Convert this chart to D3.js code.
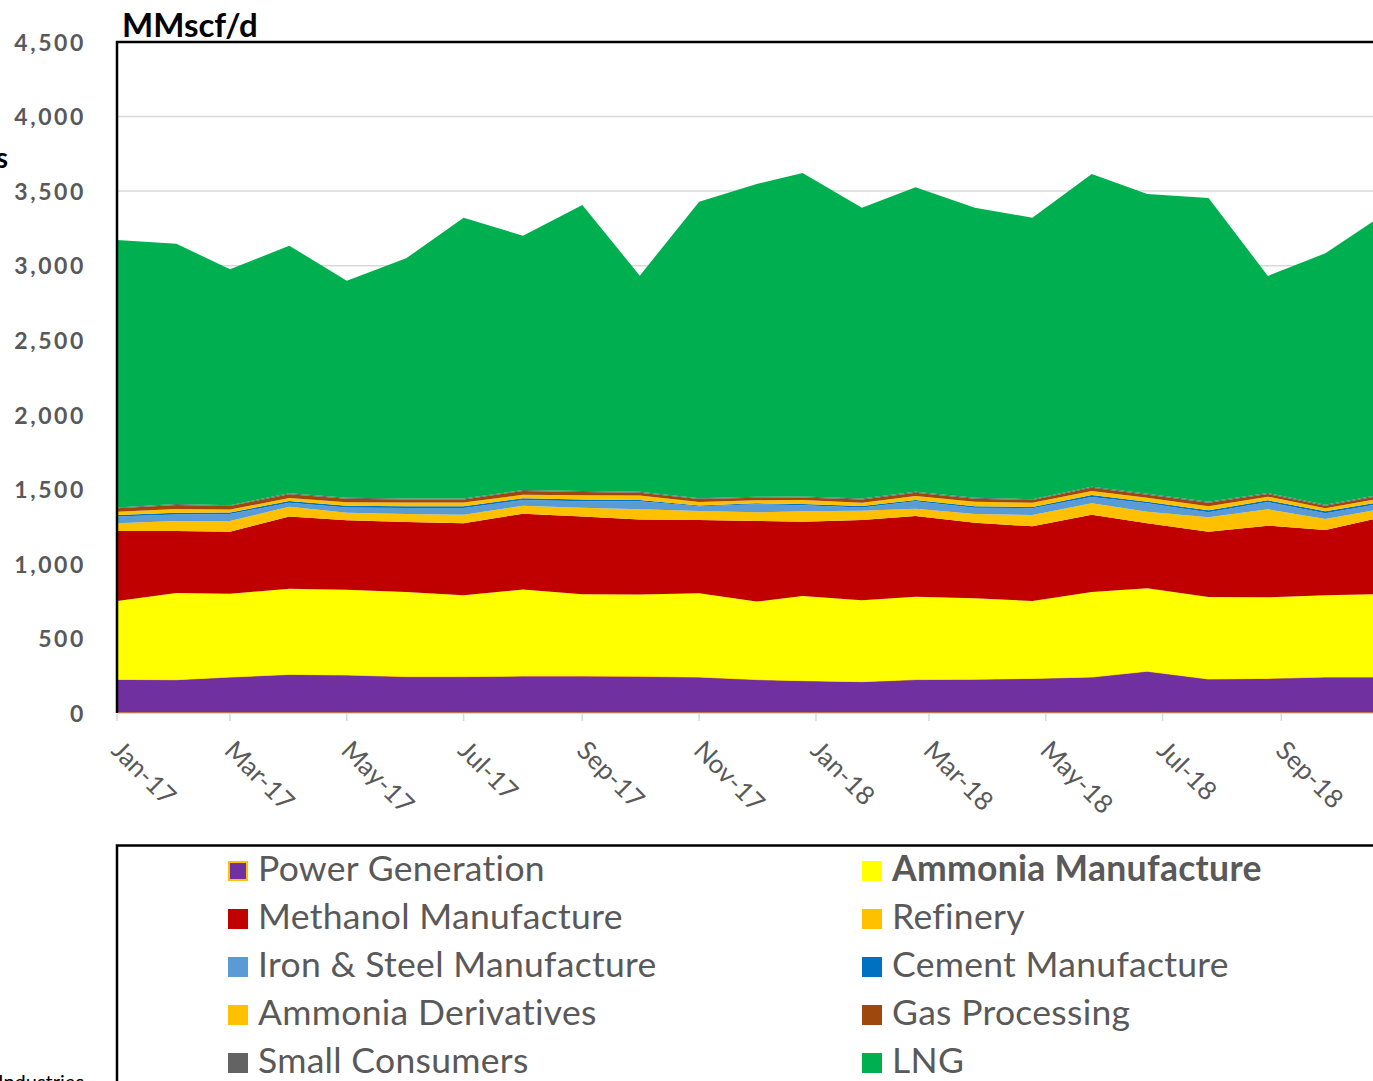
<!DOCTYPE html>
<html>
<head>
<meta charset="utf-8">
<script src="https://cdn.jsdelivr.net/npm/d3@7"></script>
<style>
  html, body { margin: 0; padding: 0; background: #fff; overflow: hidden; }
  svg { display: block; }
</style>
</head>
<body>
<script>
// monthly gas demand by sector, MMscf/d
const dates = [
  "2017-01-01", "2017-02-01", "2017-03-01", "2017-04-01", "2017-05-01", "2017-06-01",
  "2017-07-01", "2017-08-01", "2017-09-01", "2017-10-01", "2017-11-01", "2017-12-01",
  "2017-12-25", "2018-01-25", "2018-02-22", "2018-03-25", "2018-04-24", "2018-05-25",
  "2018-06-23", "2018-07-25", "2018-08-25", "2018-09-24", "2018-10-25"
]
const powerGeneration    = [225, 223, 241, 259, 255, 244, 244, 248, 248, 246, 241, 224, 217, 210, 224, 226, 232, 241, 280, 228, 232, 241, 241]
const ammoniaManufacture = [526, 582, 559, 575, 572, 567, 545, 581, 548, 548, 562, 523, 568, 546, 556, 543, 519, 570, 556, 550, 544, 548, 557]
const methanol           = [470, 416, 416, 483, 465, 470, 483, 508, 521, 503, 491, 541, 498, 538, 541, 507, 501, 519, 436, 438, 480, 438, 520]
const refinery           = [51, 67, 72, 67, 51, 54, 58, 53, 60, 69, 61, 58, 70, 63, 49, 59, 76, 76, 78, 96, 110, 74, 55]
const ironSteel          = [45, 44, 47, 26, 36, 40, 45, 38, 43, 54, 31, 54, 40, 22, 50, 42, 45, 43, 56, 34, 49, 38, 35]
const cement             = [11, 11, 10, 12, 11, 11, 11, 12, 11, 9, 5, 6, 9, 9, 9, 9, 9, 13, 11, 13, 11, 14, 11]
const ammoniaDerivatives = [22, 25, 19, 20, 23, 25, 25, 24, 29, 29, 24, 20, 27, 22, 26, 31, 28, 27, 27, 27, 25, 20, 25]
const gasProcessing      = [23, 27, 24, 25, 24, 21, 21, 25, 22, 19, 20, 18, 17, 22, 22, 20, 18, 22, 20, 24, 18, 17, 20]
const smallConsumers     = [6, 6, 6, 6, 6, 6, 6, 6, 6, 6, 6, 6, 6, 6, 6, 6, 6, 6, 6, 6, 6, 6, 6]
const lng                = [1793, 1746, 1582, 1661, 1456, 1611, 1884, 1706, 1919, 1450, 1988, 2098, 2170, 1951, 2043, 1946, 1888, 2098, 2011, 2038, 1456, 1687, 1878]

const seriesNames = [
  "Power Generation", "Ammonia Manufacture", "Methanol Manufacture", "Refinery",
  "Iron & Steel Manufacture", "Cement Manufacture", "Ammonia Derivatives",
  "Gas Processing", "Small Consumers", "LNG"
]
const seriesValues = [
  powerGeneration, ammoniaManufacture, methanol, refinery, ironSteel,
  cement, ammoniaDerivatives, gasProcessing, smallConsumers, lng
]
const seriesColors = [
  "#7030A0", "#FFFF00", "#C00000", "#FFC000", "#5B9BD5",
  "#0070C0", "#FFC000", "#9E480E", "#636363", "#00B050"
]
const yTicks = [0, 500, 1000, 1500, 2000, 2500, 3000, 3500, 4000, 4500]
const xTickDates = ["2017-01-01", "2017-03-01", "2017-05-01", "2017-07-01", "2017-09-01",
  "2017-11-01", "2018-01-01", "2018-03-01", "2018-05-01", "2018-07-01", "2018-09-01"]

const width = 1373
const height = 1081
const parse = d3.utcParse("%Y-%m-%d")

const rows = dates.map((d, i) => {
  const row = { date: parse(d) }
  seriesNames.forEach((name, k) => row[name] = seriesValues[k][i])
  return row
})

const x = d3.scaleUtc()
  .domain([parse("2017-01-01"), parse("2018-09-01")])
  .range([117, 1281.3])

const y = d3.scaleLinear()
  .domain([0, 4500])
  .range([713, 42])

const svg = d3.select("body").append("svg")
  .attr("width", width)
  .attr("height", height)
  .attr("font-family", "Lato, 'Open Sans', sans-serif")

svg.append("rect").attr("width", width).attr("height", height).attr("fill", "#fff")

// gridlines
svg.append("g")
  .selectAll("line")
  .data(yTicks.slice(1))
  .join("line")
  .attr("x1", 117).attr("x2", width)
  .attr("y1", d => y(d)).attr("y2", d => y(d))
  .attr("stroke", "#d9d9d9")
  .attr("stroke-width", 1.5)

const stack = d3.stack().keys(seriesNames)
const layers = stack(rows)

const area = d3.area()
  .x(d => x(d.data.date))
  .y0(d => y(d[0]))
  .y1(d => y(d[1]))

svg.append("g")
  .selectAll("path")
  .data(layers)
  .join("path")
  .attr("fill", (d, i) => seriesColors[i])
  .attr("stroke", (d, i) => i === 0 ? "#FFC000" : "none")
  .attr("stroke-width", 1)
  .attr("d", area)

// x axis
const xAxis = svg.append("g")
xAxis.append("line")
  .attr("x1", 117).attr("x2", width)
  .attr("y1", 713.5).attr("y2", 713.5)
  .attr("stroke", "#d9d9d9")
xAxis.selectAll(".tick")
  .data(xTickDates.map(parse))
  .join("line")
  .attr("x1", d => x(d)).attr("x2", d => x(d))
  .attr("y1", 714).attr("y2", 721)
  .attr("stroke", "#d9d9d9")
  .attr("stroke-width", 1.5)
xAxis.selectAll("text")
  .data(xTickDates.map(parse))
  .join("text")
  .attr("transform", d => `translate(${x(d) - 7},${752}) rotate(45)`)
  .attr("font-size", 26)
  .attr("fill", "#595959")
  .text(d3.utcFormat("%b-%y"))

// y axis labels
svg.append("g")
  .selectAll("text")
  .data(yTicks)
  .join("text")
  .attr("x", 86)
  .attr("y", d => y(d))
  .attr("dy", "0.38em")
  .attr("text-anchor", "end")
  .attr("font-size", 23)
  .attr("font-weight", "bold")
  .attr("letter-spacing", 2.6)
  .attr("fill", "#595959")
  .text(d3.format(","))

// plot frame (left and top)
svg.append("path")
  .attr("d", `M117,713V42H${width}`)
  .attr("fill", "none")
  .attr("stroke", "#000")
  .attr("stroke-width", 2.5)

svg.append("text")
  .attr("x", 122).attr("y", 37)
  .attr("font-size", 33)
  .attr("font-weight", "bold")
  .attr("fill", "#000")
  .text("MMscf/d")

svg.append("text")
  .attr("x", 8).attr("y", 168)
  .attr("text-anchor", "end")
  .attr("font-size", 28)
  .attr("font-weight", "bold")
  .attr("fill", "#000")
  .text("s")

svg.append("text")
  .attr("x", -2).attr("y", 1089)
  .attr("font-size", 20)
  .attr("fill", "#000")
  .text("Industries")

// legend
const legend = svg.append("g")
legend.append("path")
  .attr("d", `M117,${height}V845.5H${width}`)
  .attr("fill", "none")
  .attr("stroke", "#000")
  .attr("stroke-width", 2.5)

const item = legend.selectAll("g")
  .data(seriesNames)
  .join("g")
  .attr("transform", (d, i) => `translate(${i % 2 === 0 ? 228 : 862},${861 + Math.floor(i / 2) * 48})`)

item.append("rect")
  .attr("x", (d, i) => i === 0 ? 1 : 0)
  .attr("y", (d, i) => i === 0 ? 1 : 0)
  .attr("width", (d, i) => i === 0 ? 18 : 20)
  .attr("height", (d, i) => i === 0 ? 18 : 20)
  .attr("fill", (d, i) => seriesColors[i])
  .attr("stroke", (d, i) => i === 0 ? "#FFC000" : "none")
  .attr("stroke-width", 2)

item.append("text")
  .attr("x", 30)
  .attr("y", 20)
  .attr("font-size", 35.5)
  .attr("letter-spacing", 0.3)
  .attr("font-weight", (d, i) => i === 1 ? "bold" : "normal")
  .attr("fill", "#595959")
  .text(d => d)
</script>
</body>
</html>
